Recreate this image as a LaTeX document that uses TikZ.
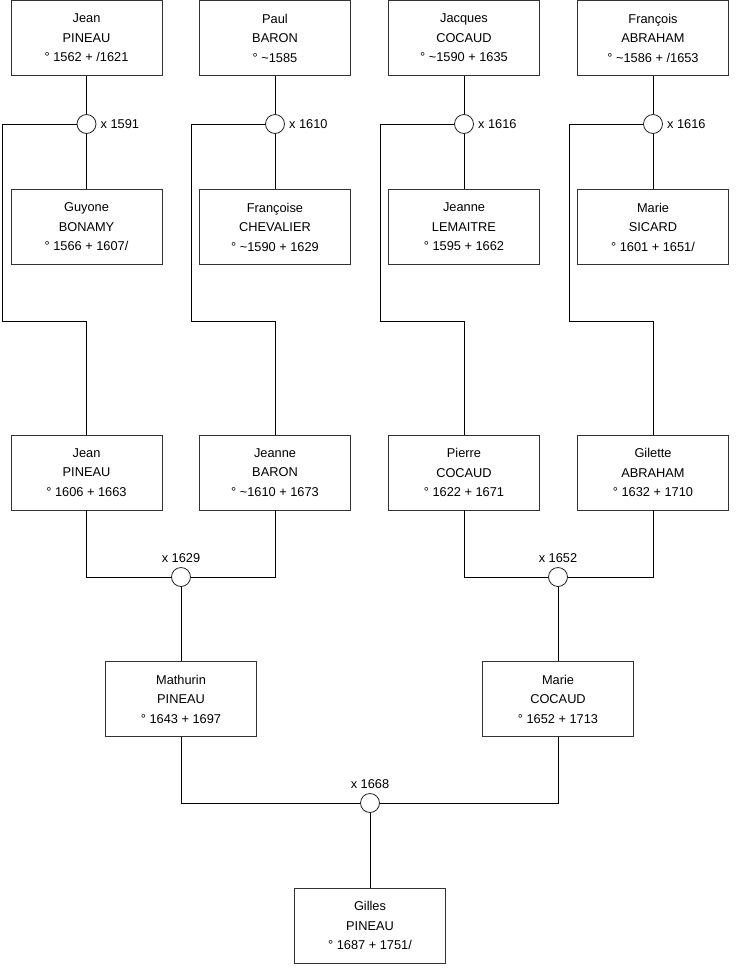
\documentclass[tikz,border=0pt]{standalone}
\usepackage{fontspec}
\setmainfont{Liberation Sans}
\begin{document}
\begin{tikzpicture}[x=1pt,y=-1pt,
  person/.style={draw=black!80, line width=0.8pt, fill=white, minimum width=151pt, minimum height=75pt, align=center, inner sep=0pt, font=\fontsize{12.8}{19.5}\selectfont},
  union/.style={draw=black!85, line width=0.8pt, fill=white, circle, minimum size=19pt, inner sep=0pt},
  rlabel/.style={anchor=west, inner sep=0pt, xshift=4pt, font=\fontsize{12.8}{15}\selectfont},
  tlabel/.style={anchor=south, inner sep=0pt, yshift=4.5pt, font=\fontsize{12.8}{15}\selectfont},
  link/.style={draw=black, line width=0.8pt}]
\useasboundingbox[fill=white] (0,0) rectangle (740,975);
% top row
\node[person] (jean1) at (86.5,38) {Jean\\PINEAU\\° 1562 + /1621};
\node[person] (paul) at (275,38) {Paul\\BARON\\° \textasciitilde1585};
\node[person] (jacques) at (464,38) {Jacques\\COCAUD\\° \textasciitilde1590 + 1635};
\node[person] (francois) at (653,38) {François\\ABRAHAM\\° \textasciitilde1586 + /1653};
% second row
\node[person] (guyone) at (86.5,227) {Guyone\\BONAMY\\° 1566 + 1607/};
\node[person] (francoise) at (275,227) {Françoise\\CHEVALIER\\° \textasciitilde1590 + 1629};
\node[person] (jeanneL) at (464,227) {Jeanne\\LEMAITRE\\° 1595 + 1662};
\node[person] (marieS) at (653,227) {Marie\\SICARD\\° 1601 + 1651/};
% third row
\node[person] (jean2) at (86.5,472.5) {Jean\\PINEAU\\° 1606 + 1663};
\node[person] (jeanneB) at (275,472.5) {Jeanne\\BARON\\° \textasciitilde1610 + 1673};
\node[person] (pierre) at (464,472.5) {Pierre\\COCAUD\\° 1622 + 1671};
\node[person] (gilette) at (653,472.5) {Gilette\\ABRAHAM\\° 1632 + 1710};
% fourth row
\node[person] (mathurin) at (181,699) {Mathurin\\PINEAU\\° 1643 + 1697};
\node[person] (marieC) at (558,699) {Marie\\COCAUD\\° 1652 + 1713};
% fifth row
\node[person] (gilles) at (370,925.5) {Gilles\\PINEAU\\° 1687 + 1751/};
% unions
\node[union] (m1) at (86.5,124) {};
\node[union] (m2) at (275,124) {};
\node[union] (m3) at (464,124) {};
\node[union] (m4) at (653,124) {};
\node[union] (m5) at (181,577) {};
\node[union] (m6) at (558,577) {};
\node[union] (m7) at (370,803) {};
\node[rlabel] (l1) at (m1.east) {x 1591};
\node[rlabel] (l2) at (m2.east) {x 1610};
\node[rlabel] (l3) at (m3.east) {x 1616};
\node[rlabel] (l4) at (m4.east) {x 1616};
\node[tlabel] (l5) at (m5.north) {x 1629};
\node[tlabel] (l6) at (m6.north) {x 1652};
\node[tlabel] (l7) at (m7.north) {x 1668};
% trunk coordinates
\coordinate (a1) at (2,124);   \coordinate (b1) at (2,321);   \coordinate (c1) at (86.5,321);
\coordinate (a2) at (191,124); \coordinate (b2) at (191,321); \coordinate (c2) at (275,321);
\coordinate (a3) at (380,124); \coordinate (b3) at (380,321); \coordinate (c3) at (464,321);
\coordinate (a4) at (569,124); \coordinate (b4) at (569,321); \coordinate (c4) at (653,321);
% connectors
\begin{scope}[on background layer/.style={}]
\path[link] (jean1) -- (m1) -- (guyone);
\path[link] (paul) -- (m2) -- (francoise);
\path[link] (jacques) -- (m3) -- (jeanneL);
\path[link] (francois) -- (m4) -- (marieS);
\path[link] (m1.west) -- (a1) -- (b1) -- (c1) -- (jean2.north);
\path[link] (m2.west) -- (a2) -- (b2) -- (c2) -- (jeanneB.north);
\path[link] (m3.west) -- (a3) -- (b3) -- (c3) -- (pierre.north);
\path[link] (m4.west) -- (a4) -- (b4) -- (c4) -- (gilette.north);
\path[link] (jean2.south) |- (m5.west);
\path[link] (jeanneB.south) |- (m5.east);
\path[link] (m5) -- (mathurin);
\path[link] (pierre.south) |- (m6.west);
\path[link] (gilette.south) |- (m6.east);
\path[link] (m6) -- (marieC);
\path[link] (mathurin.south) |- (m7.west);
\path[link] (marieC.south) |- (m7.east);
\path[link] (m7) -- (gilles);
\end{scope}
\end{tikzpicture}
\end{document}
